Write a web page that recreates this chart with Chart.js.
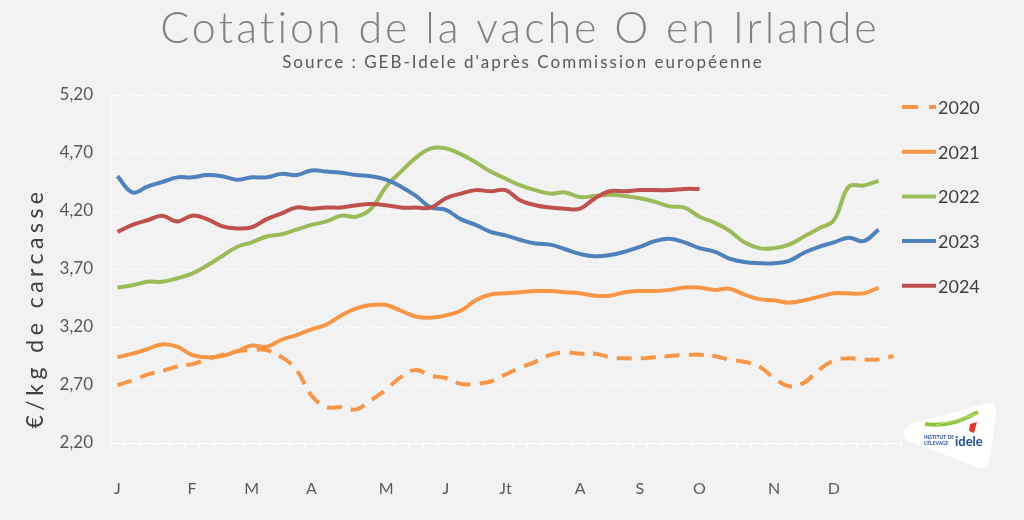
<!DOCTYPE html>
<html>
<head>
<meta charset="utf-8">
<script src="https://cdn.jsdelivr.net/npm/chart.js@4.4.1/dist/chart.umd.min.js"></script>
<style>
  html, body { margin: 0; padding: 0; background: #f2f2f2; }
  canvas { display: block; }
</style>
</head>
<body>
<canvas id="chart" width="1024" height="520"></canvas>
<script>
// month initials and the week index they sit under
const monthLabels = ["J", "F", "M", "A", "M", "J", "Jt", "A", "S", "O", "N", "D"];
const monthWeeks = [0, 5, 9, 13, 18, 22, 26, 31, 35, 39, 44, 48];
const weekCount = 53;

const years = ["2020", "2021", "2022", "2023", "2024"];
const colors = ["#F79646", "#F79646", "#9BBB59", "#4F81BD", "#C0504D"];

// weekly quotations, €/kg de carcasse
const y2020 = [2.70, 2.74, 2.79, 2.82, 2.86, 2.88, 2.92, 2.96, 2.99, 3.00, 3.00, 2.94, 2.83, 2.61, 2.51, 2.51, 2.49, 2.57, 2.66, 2.77, 2.83, 2.78, 2.76, 2.71, 2.71, 2.73, 2.79, 2.85, 2.90, 2.96, 2.98, 2.97, 2.97, 2.94, 2.93, 2.93, 2.94, 2.95, 2.96, 2.96, 2.95, 2.92, 2.90, 2.86, 2.76, 2.69, 2.72, 2.83, 2.91, 2.93, 2.92, 2.92, 2.95];
const y2021 = [2.94, 2.97, 3.01, 3.05, 3.03, 2.96, 2.94, 2.95, 2.99, 3.04, 3.03, 3.09, 3.13, 3.18, 3.22, 3.30, 3.36, 3.39, 3.39, 3.34, 3.29, 3.28, 3.30, 3.34, 3.43, 3.48, 3.49, 3.50, 3.51, 3.51, 3.50, 3.49, 3.47, 3.47, 3.50, 3.51, 3.51, 3.52, 3.54, 3.54, 3.52, 3.53, 3.48, 3.44, 3.43, 3.41, 3.43, 3.46, 3.49, 3.49, 3.49, 3.54];
const y2022 = [3.54, 3.56, 3.59, 3.59, 3.62, 3.66, 3.73, 3.81, 3.89, 3.93, 3.98, 4.00, 4.04, 4.08, 4.11, 4.16, 4.15, 4.22, 4.41, 4.54, 4.66, 4.74, 4.74, 4.69, 4.62, 4.54, 4.48, 4.42, 4.38, 4.35, 4.36, 4.32, 4.33, 4.34, 4.33, 4.31, 4.28, 4.24, 4.23, 4.15, 4.10, 4.03, 3.93, 3.88, 3.88, 3.91, 3.98, 4.05, 4.12, 4.41, 4.42, 4.46];
const y2023 = [4.50, 4.36, 4.41, 4.45, 4.49, 4.49, 4.51, 4.50, 4.47, 4.49, 4.49, 4.52, 4.51, 4.55, 4.54, 4.53, 4.51, 4.50, 4.47, 4.41, 4.33, 4.23, 4.21, 4.13, 4.08, 4.02, 3.99, 3.95, 3.92, 3.91, 3.87, 3.83, 3.81, 3.82, 3.85, 3.89, 3.94, 3.96, 3.93, 3.88, 3.85, 3.79, 3.76, 3.75, 3.75, 3.77, 3.84, 3.89, 3.93, 3.97, 3.94, 4.04];
const y2024 = [4.02, 4.08, 4.12, 4.16, 4.11, 4.16, 4.13, 4.07, 4.05, 4.06, 4.13, 4.18, 4.23, 4.22, 4.23, 4.23, 4.25, 4.26, 4.25, 4.23, 4.23, 4.23, 4.31, 4.35, 4.38, 4.37, 4.38, 4.29, 4.25, 4.23, 4.22, 4.22, 4.31, 4.37, 4.37, 4.38, 4.38, 4.38, 4.39, 4.39];

const series = [y2020, y2021, y2022, y2023, y2024];
const dashes = [[15, 9], [], [], [], []];

const labels = [];
for (let i = 0; i < weekCount; i++) {
  const k = monthWeeks.indexOf(i);
  labels.push(k >= 0 ? monthLabels[k] : "");
}

const FONT = "Lato, 'Open Sans', sans-serif";

const decor = {
  id: "decor",
  afterDraw(chart) {
    const ctx = chart.ctx;
    ctx.save();
    // titles
    ctx.textAlign = "center";
    ctx.textBaseline = "alphabetic";
    ctx.fillStyle = "#808080";
    ctx.font = "300 43px " + FONT;
    ctx.letterSpacing = "3px";
    ctx.fillText("Cotation de la vache O en Irlande", 520, 43);
    ctx.fillStyle = "#595959";
    ctx.font = "17px " + FONT;
    ctx.letterSpacing = "2px";
    ctx.fillText("Source : GEB-Idele d'après Commission européenne", 523, 68);

    // y axis title
    ctx.save();
    ctx.translate(36, 310);
    ctx.rotate(-Math.PI / 2);
    ctx.textBaseline = "middle";
    ctx.fillStyle = "#404040";
    ctx.font = "23px " + FONT;
    ctx.letterSpacing = "4.5px";
    ctx.fillText("€/kg de carcasse", 2, 0);
    ctx.restore();
    ctx.letterSpacing = "0px";

    // legend
    ctx.textAlign = "left";
    ctx.textBaseline = "middle";
    ctx.font = "18px " + FONT;
    years.forEach((yr, k) => {
      const y = 107 + k * 44.7;
      ctx.beginPath();
      ctx.strokeStyle = colors[k];
      ctx.lineWidth = 4;
      ctx.setLineDash(k === 0 ? [16, 11] : []);
      ctx.moveTo(902, y);
      ctx.lineTo(936, y);
      ctx.stroke();
      ctx.setLineDash([]);
      ctx.fillStyle = "#404040";
      ctx.fillText(yr, 938, y + 1);
    });

    // idele logo
    ctx.beginPath();
    ctx.moveTo(910, 424);
    ctx.lineTo(985, 404);
    ctx.quadraticCurveTo(998, 400, 996, 413);
    ctx.lineTo(990, 459);
    ctx.quadraticCurveTo(987, 473, 975, 466);
    ctx.lineTo(908, 441);
    ctx.quadraticCurveTo(898, 434, 910, 424);
    ctx.fillStyle = "#ffffff";
    ctx.fill();
    ctx.beginPath();
    ctx.moveTo(925, 424);
    ctx.quadraticCurveTo(950, 428, 978, 412);
    ctx.strokeStyle = "#8dc63f";
    ctx.lineWidth = 4;
    ctx.stroke();
    ctx.beginPath();
    ctx.moveTo(936, 425);
    ctx.quadraticCurveTo(960, 420, 980, 413);
    ctx.strokeStyle = "#c6e07a";
    ctx.lineWidth = 1;
    ctx.stroke();
    ctx.fillStyle = "#e03a2f";
    ctx.beginPath();
    ctx.moveTo(970, 424);
    ctx.lineTo(977, 422);
    ctx.lineTo(974, 433);
    ctx.lineTo(969, 431);
    ctx.fill();
    ctx.fillStyle = "#1f4e9c";
    ctx.font = "bold 5px " + FONT;
    ctx.fillText("INSTITUT DE", 924, 437);
    ctx.fillText("L'ÉLEVAGE", 924, 443);
    ctx.font = "bold 13px " + FONT;
    ctx.fillText("idele", 955, 442);
    ctx.restore();
  }
};

new Chart(document.getElementById("chart").getContext("2d"), {
  type: "line",
  data: {
    labels: labels,
    datasets: series.map((d, k) => ({
      label: years[k],
      data: d,
      borderColor: colors[k],
      backgroundColor: colors[k],
      borderDash: dashes[k],
      order: years.length - k
    }))
  },
  options: {
    responsive: false,
    animation: false,
    layout: { padding: { top: 95, right: 123, left: 0, bottom: 0 } },
    elements: {
      point: { radius: 0 },
      line: { tension: 0.4, borderWidth: 4, fill: false }
    },
    plugins: {
      legend: { display: false },
      title: { display: false },
      tooltip: { enabled: false }
    },
    scales: {
      x: {
        offset: true,
        grid: { offset: true, drawOnChartArea: false, drawTicks: true, tickLength: 6, color: "#ffffff" },
        border: { color: "#ffffff", width: 1 },
        ticks: { autoSkip: false, maxRotation: 0, padding: 30, color: "#595959", font: { family: FONT, size: 16 } },
        afterFit: s => { s.height = 77; }
      },
      y: {
        min: 2.2,
        max: 5.2,
        ticks: {
          stepSize: 0.5,
          padding: 17,
          color: "#595959",
          font: { family: FONT, size: 17 },
          callback: v => v.toFixed(2).replace(".", ",")
        },
        grid: { color: "#ffffff", drawTicks: false },
        border: { color: "#ffffff", dash: [3, 3] },
        afterFit: s => { s.width = 110; }
      }
    }
  },
  plugins: [decor]
});
</script>
</body>
</html>
